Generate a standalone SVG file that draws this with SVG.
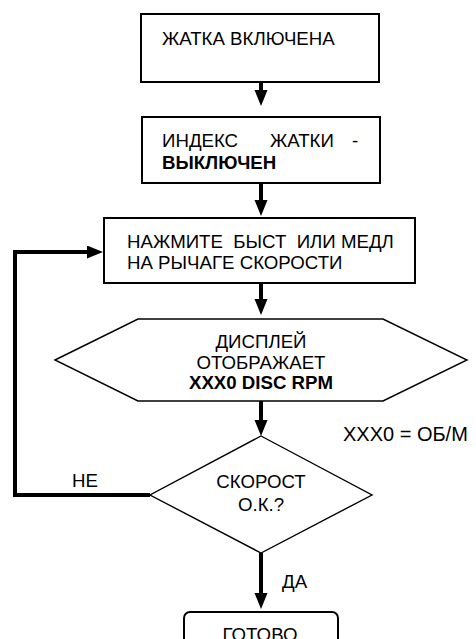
<svg xmlns="http://www.w3.org/2000/svg" width="476" height="639" viewBox="0 0 476 639">
<style>
.t{font-family:"Liberation Sans",Arial,sans-serif;font-size:18.67px;fill:#000}
.b{font-weight:bold}
.m{text-anchor:middle}
.box{fill:#fff;stroke:#000;stroke-width:2}
.shape{fill:#fff;stroke:#000;stroke-width:1.4}
.con{fill:none;stroke:#000;stroke-width:4}
</style>
<defs>
<marker id="ah" markerUnits="userSpaceOnUse" markerWidth="16" markerHeight="14" refX="8" refY="6.5" orient="auto">
<path d="M0,0 L16,6.5 L0,13 Z" fill="#000"/>
</marker>
</defs>
<rect width="476" height="639" fill="#fff"/>
<g id="n1">
<rect class="box" x="141" y="14" width="238" height="68"/>
<text class="t" x="162" y="45">ЖАТКА ВКЛЮЧЕНА</text>
</g>
<g id="n2">
<rect class="box" x="142" y="117" width="238" height="66"/>
<text class="t" x="162" y="147">ИНДЕКС</text>
<text class="t" x="270" y="147">ЖАТКИ</text>
<text class="t" x="352" y="147">-</text>
<text class="t b" x="162" y="169">ВЫКЛЮЧЕН</text>
</g>
<g id="n3">
<rect class="box" x="104" y="218" width="311" height="65"/>
<text class="t" x="127" y="248" xml:space="preserve">НАЖМИТЕ  БЫСТ  ИЛИ МЕДЛ</text>
<text class="t" x="127" y="269">НА РЫЧАГЕ СКОРОСТИ</text>
</g>
<g id="n4">
<polygon class="shape" points="55,360 138,319 383,319 467,360 383,401 138,401"/>
<text class="t m" x="261" y="348">ДИСПЛЕЙ</text>
<text class="t m" x="261" y="368.5">ОТОБРАЖАЕТ</text>
<text class="t m b" x="261" y="389">XXX0 DISC RPM</text>
</g>
<g id="n5">
<polygon class="shape" points="261,436 372,495 261,553 150,495"/>
<text class="t m" x="261" y="488">СКОРОСТ</text>
<text class="t m" x="261" y="510.5">О.К.?</text>
</g>
<g id="n6">
<rect class="box" x="184" y="612" width="154" height="60" rx="6" ry="6"/>
<text class="t m" x="260" y="640.5">ГОТОВО</text>
</g>
<g id="note">
<text class="t" x="343" y="441" style="font-size:20px">XXX0 = ОБ/М</text>
</g>
<g id="connectors">
<path class="con" d="M261,82 V98" marker-end="url(#ah)"/>
<path class="con" d="M261,183 V208" marker-end="url(#ah)"/>
<path class="con" d="M261,283 V307" marker-end="url(#ah)"/>
<path class="con" d="M261,401 V428" marker-end="url(#ah)"/>
<path class="con" d="M261,553 V601" marker-end="url(#ah)"/>
<path class="con" d="M150,495 H15 V252 H95" marker-end="url(#ah)"/>
<text class="t" x="72" y="487">НЕ</text>
<text class="t" x="282" y="588">ДА</text>
</g>
</svg>
